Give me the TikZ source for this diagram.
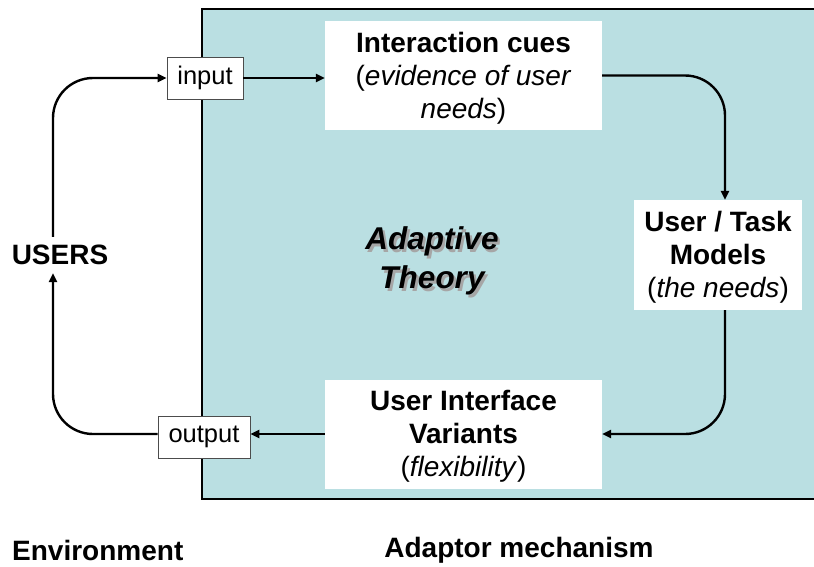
\documentclass[tikz,border=0pt]{standalone}
\usepackage{fontspec}
\setmainfont{Liberation Sans}
\usetikzlibrary{arrows.meta}
\definecolor{panelblue}{RGB}{186,223,226}
\begin{document}
\begin{tikzpicture}[x=1pt,y=-1pt,
  big/.style={font=\fontsize{28}{33}\selectfont, align=center},
  bigbold/.style={font=\fontsize{28}{33}\selectfont\bfseries, align=center, inner sep=0pt},
  whitebox/.style={fill=white, inner sep=0pt, minimum width=277pt, minimum height=109pt},
  boxtext/.style={big, inner sep=0pt},
  iobox/.style={draw=black!70, line width=0.8pt, fill=white, font=\fontsize{25.5}{28}\selectfont, inner sep=0pt, minimum height=42pt},
  conn/.style={line width=2.4pt, -{Triangle[length=9pt,width=8pt]}, rounded corners=40pt},
  theorytext/.style={font=\fontsize{31.5}{39}\selectfont\bfseries\itshape, align=center},
]
\useasboundingbox (0,0) rectangle (814,567);
\fill[white] (0,0) rectangle (814,567);
\fill[panelblue] (202,9) rectangle (840,499);
\draw[line width=1.5pt] (840,9) -- (202,9) -- (202,499) -- (840,499);

\node[whitebox] (cues) at (463.5,75.5) {};
\node[boxtext] (cuestext) at ([yshift=-2.5pt]cues.center) {\textbf{Interaction cues}\\(\textit{evidence of user}\\\textit{needs})};
\node[whitebox, minimum width=168pt, minimum height=110pt] (models) at (718,255) {};
\node[boxtext] (modelstext) at ([yshift=-2.5pt]models.center) {\textbf{User / Task}\\\textbf{Models}\\(\textit{the needs})};
\node[whitebox] (uiv) at (463.5,434) {};
\node[boxtext] (uivtext) at ([yshift=-2.5pt]uiv.center) {\textbf{User Interface}\\\textbf{Variants}\\(\textit{flexibility})};
\node[iobox, minimum width=76pt] (input) at (205,78) {input};
\node[iobox, minimum width=92pt] (output) at (204,437) {output};
\node[bigbold, inner ysep=8pt] (users) at (60,255) {USERS};

\node[theorytext, text=black!35] (theoryshadow) at (434.5,263.5) {Adaptive\\Theory};
\node[theorytext] (theory) at (432,261) {Adaptive\\Theory};

\node[bigbold, anchor=west] (env) at (12,550) {Environment};
\node[bigbold] (adaptor) at (519,550) {Adaptor mechanism};

\draw[conn] ([xshift=-7pt]users.north) |- (input.west);
\draw[conn] (input.east) -- (input.east -| cues.west);
\draw[conn] (cues.east) -| ([xshift=7pt]models.north);
\draw[conn] ([xshift=7pt]models.south) |- (uiv.east);
\draw[conn] (uiv.west) -- (uiv.west -| output.east);
\draw[conn] (output.west |- uiv.west) -| ([xshift=-7pt]users.south);
\end{tikzpicture}
\end{document}
